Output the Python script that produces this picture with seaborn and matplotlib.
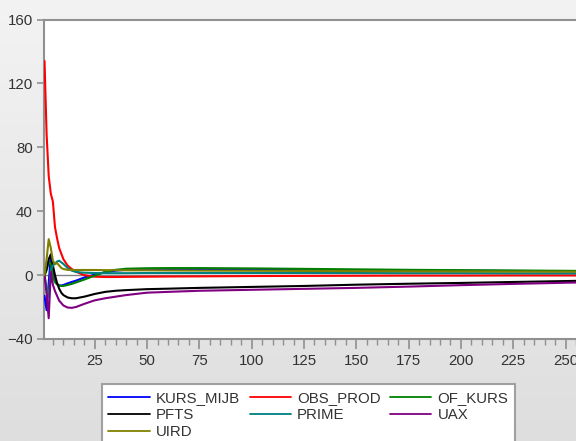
import numpy as np
import pandas as pd
import matplotlib
matplotlib.use("Agg")
import matplotlib.pyplot as plt
import seaborn as sns
from matplotlib.colors import LinearSegmentedColormap

# ---- data ----
periods = [1, 2, 3, 4, 5, 6, 7, 8, 9, 10, 12, 14, 16, 18, 20, 25, 30, 35, 40,
           50, 60, 75, 100, 125, 150, 175, 200, 225, 260]
kurs_mijb = [-13, -22, -5, 12, 4, -3.5, -5.5, -6.5, -6.5, -6.2, -5.2, -4.3, -3.5, -2.5,
             -1.5, 0.3, 1.8, 2.8, 3.3, 3.6, 3.6, 3.5, 3.3, 3.1, 3.0, 2.9, 2.8, 2.6, 2.4]
obs_prod = [134, 88, 62, 51, 46, 30, 23, 17, 13.5, 10, 6, 3.8, 2.2, 1.0, 0.0, -1.0,
            -1.2, -1.2, -1.1, -1.0, -0.9, -0.8, -0.6, -0.5, -0.4, -0.3, -0.3, -0.2, -0.2]
of_kurs = [0, 3, 8, 7.5, -1, -4.5, -5.8, -6.5, -6.8, -6.8, -6.2, -5.5, -4.6, -3.7,
           -2.8, -0.3, 2.0, 3.3, 4.0, 4.3, 4.4, 4.4, 4.2, 3.9, 3.6, 3.3, 3.1, 2.9, 2.6]
pfts = [0, 4, 10, 13, 6, 0, -5, -8.5, -11, -12.5, -14, -14.5, -14.5, -14, -13.5,
        -11.8, -10.5, -9.8, -9.4, -8.8, -8.5, -8.0, -7.4, -6.8, -6.0, -5.4, -4.9, -4.3, -3.5]
prime = [0, -8, -13, 3, 6, 7, 8.5, 9, 8, 7, 4.5, 2.8, 2.0, 1.7, 1.5, 1.3, 1.2, 1.2,
         1.2, 1.3, 1.3, 1.3, 1.3, 1.3, 1.3, 1.2, 1.2, 1.1, 1.0]
uax = [0, -12, -27, 2, -6, -10, -13, -16, -17.5, -19, -20.3, -20.5, -20, -19, -18,
       -15.8, -14.5, -13.5, -12.5, -11, -10.5, -9.8, -9.2, -8.6, -8.0, -7.2, -6.3, -5.5, -4.5]
uird = [0, 10, 22.5, 17, 9, 7, 7.5, 6, 4.5, 3.8, 3.3, 3.2, 3.2, 3.2, 3.2, 3.2, 3.1,
        3.1, 3.0, 3.0, 2.9, 2.8, 2.7, 2.6, 2.5, 2.4, 2.3, 2.2, 2.1]

series_names = ["KURS_MIJB", "OBS_PROD", "OF_KURS", "PFTS", "PRIME", "UAX", "UIRD"]
series_values = [kurs_mijb, obs_prod, of_kurs, pfts, prime, uax, uird]
series_colors = ["#0000ff", "#ff0000", "#008000", "#000000", "#008080", "#800080", "#808000"]
yticks = [-40, 0, 40, 80, 120, 160]
xticks = [25, 50, 75, 100, 125, 150, 175, 200, 225, 250]

df = pd.DataFrame({"period": np.tile(periods, len(series_names)),
                   "value": np.concatenate(series_values),
                   "series": np.repeat(series_names, len(periods))})

sns.set_style("white")
plt.rcParams["font.family"] = ["Liberation Sans", "DejaVu Sans"]

W, H = 576, 441
fig = plt.figure(figsize=(W / 100, H / 100), dpi=100)

# gradient background
bg = fig.add_axes([0, 0, 1, 1], zorder=-10)
grad = np.linspace(0, 1, 256).reshape(-1, 1)
cmap = LinearSegmentedColormap.from_list("bg", ["#f3f3f3", "#dedede"])
bg.imshow(grad, aspect="auto", cmap=cmap, extent=[0, 1, 0, 1], origin="upper")
bg.set_axis_off()

left_px, top_px, bottom_px = 44, 19.5, 339
ax = fig.add_axes([left_px / W, (H - bottom_px) / H, 1 - left_px / W,
                   (bottom_px - top_px) / H])
ax.set_facecolor("white")

ax.axhline(0, color="#808080", lw=1.0, zorder=1)
sns.lineplot(data=df, x="period", y="value", hue="series", hue_order=series_names,
             palette=series_colors, linewidth=1.5, ax=ax, legend=False, zorder=3)

ax.set_xlim(0.75, 255)
ax.set_ylim(-40, 160)
ax.set_xlabel("")
ax.set_ylabel("")
ax.set_yticks(yticks)
ax.set_xticks(xticks)
ax.set_xticks(np.arange(5, 256, 5), minor=True)

spine_col = "#909090"
for s in ["left", "top", "bottom"]:
    ax.spines[s].set_color(spine_col)
    ax.spines[s].set_linewidth(1.5)
ax.spines["right"].set_visible(False)

ax.tick_params(axis="y", which="major", direction="out", length=5, width=1.2,
               color=spine_col, labelsize=10.8, labelcolor="#333333", pad=3, left=True)
ax.tick_params(axis="x", which="major", direction="out", length=7, width=1.2,
               color=spine_col, labelsize=10.8, labelcolor="#333333", pad=4, bottom=True)
ax.tick_params(axis="x", which="minor", direction="out", length=4, width=1.0,
               color=spine_col, bottom=True)

# legend (row-wise order as in reference -> column-wise for matplotlib)
handles = {n: plt.Line2D([], [], color=c, lw=1.3) for n, c in zip(series_names, series_colors)}
order = ["KURS_MIJB", "PFTS", "UIRD", "OBS_PROD", "PRIME", "OF_KURS", "UAX"]
leg = fig.legend([handles[n] for n in order], order, ncol=3, loc="upper left",
                 bbox_to_anchor=(101.7 / W, 1 - 384 / H), borderaxespad=0,
                 fontsize=10.8, frameon=True, fancybox=False, handlelength=2.75,
                 handletextpad=0.4, columnspacing=0.65, labelspacing=0.22,
                 borderpad=0.45)
leg.get_frame().set_edgecolor("#a0a0a0")
leg.get_frame().set_linewidth(1.5)
leg.get_frame().set_facecolor("white")
leg.get_frame().set_alpha(1)
for t in leg.get_texts():
    t.set_color("#333333")

fig.savefig("out.png", dpi=100)
